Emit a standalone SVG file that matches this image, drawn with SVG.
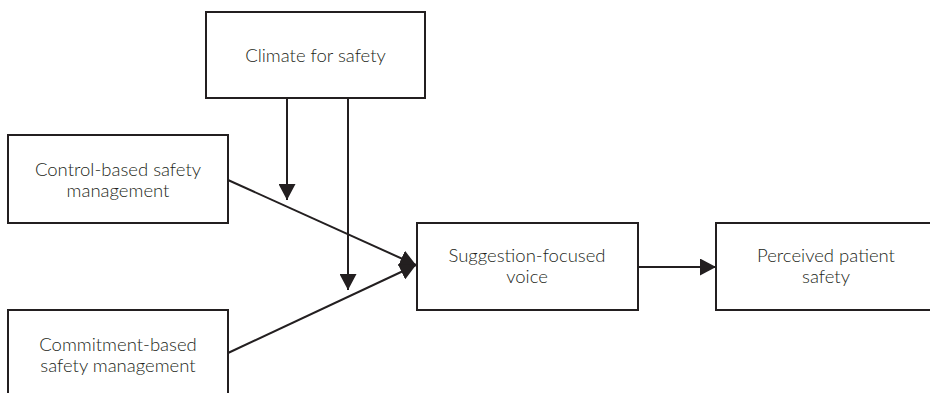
<svg xmlns="http://www.w3.org/2000/svg" width="930" height="393" viewBox="0 0 930 393">
<style>
.box{fill:#fff;stroke:#231f20;stroke-width:2}
.lbl{font-family:Lato,"Open Sans","Liberation Sans",sans-serif;font-weight:300;font-size:18.5px;fill:#231f20;text-anchor:middle}
.con{stroke:#231f20;stroke-width:2;fill:none;marker-end:url(#ah)}
</style>
<defs>
<marker id="ah" markerUnits="userSpaceOnUse" markerWidth="17" markerHeight="17" viewBox="0 0 17 17" refX="16" refY="8.5" orient="auto">
<path d="M0,0 L16,8.5 L0,17 Z" fill="#231f20"/>
</marker>
</defs>
<rect width="930" height="393" fill="#fff"/>
<g id="connectors">
<line class="con" x1="287" y1="98" x2="287" y2="200"/>
<line class="con" x1="348" y1="98" x2="348" y2="290"/>
<line class="con" x1="228" y1="180" x2="416" y2="265"/>
<line class="con" x1="228" y1="353" x2="416" y2="265"/>
<line class="con" x1="638" y1="267" x2="716" y2="267"/>
</g>
<g id="climate">
<rect class="box" x="206" y="12" width="219" height="86"/>
<text class="lbl" x="315.5" y="62">Climate for safety</text>
</g>
<g id="control">
<rect class="box" x="8" y="135" width="220" height="88"/>
<text class="lbl" x="118" y="176">Control-based safety</text>
<text class="lbl" x="118" y="197">management</text>
</g>
<g id="commitment">
<rect class="box" x="8" y="310" width="220" height="90"/>
<text class="lbl" x="118" y="351">Commitment-based</text>
<text class="lbl" x="118" y="372">safety management</text>
</g>
<g id="suggestion">
<rect class="box" x="417" y="223" width="221" height="87"/>
<text class="lbl" x="527" y="262">Suggestion-focused</text>
<text class="lbl" x="527" y="283">voice</text>
</g>
<g id="perceived">
<rect class="box" x="716" y="223" width="220" height="87"/>
<text class="lbl" x="826" y="262">Perceived patient</text>
<text class="lbl" x="826" y="283">safety</text>
</g>
</svg>
